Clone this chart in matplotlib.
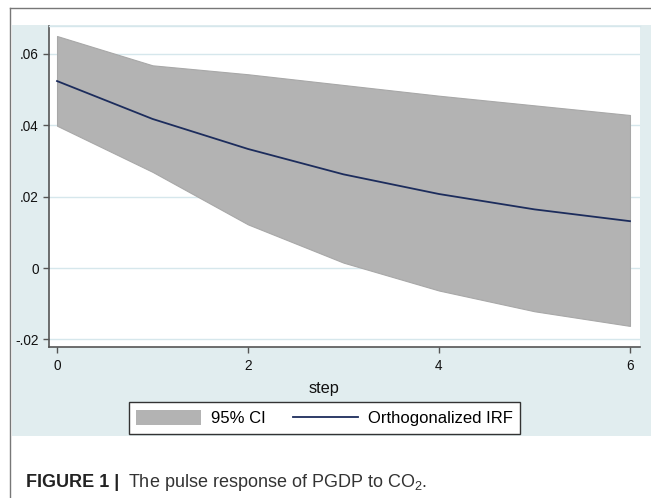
import matplotlib
matplotlib.use("Agg")
import matplotlib.pyplot as plt
from matplotlib.patches import Rectangle, Patch
from matplotlib.lines import Line2D

plt.rcParams['font.family'] = ['Liberation Sans', 'DejaVu Sans']
plt.rcParams['mathtext.fontset'] = 'custom'
plt.rcParams['mathtext.rm'] = 'Liberation Sans'

# data
steps = [0, 1, 2, 3, 4, 5, 6]
irf = [0.0523, 0.0417, 0.0333, 0.0262, 0.0207, 0.0164, 0.0131]
ci_upper = [0.0649, 0.0567, 0.0542, 0.0512, 0.0482, 0.0455, 0.0428]
ci_lower = [0.0398, 0.0269, 0.0122, 0.0015, -0.0063, -0.0121, -0.0162]
yticks = [-0.02, 0, 0.02, 0.04, 0.06]
ytick_labels = ['-.02', '0', '.02', '.04', '.06']
xticks = [0, 2, 4, 6]

W, H = 651, 498
bg_blue = '#e1edef'
grid_blue = '#d6e7ec'
fill_grey = '#b3b3b3'
navy = '#1c2c5c'

fig = plt.figure(figsize=(W / 100, H / 100), dpi=100)


def px(x, y):
    return x / W, 1 - y / H


# outer frame and Stata graph region
fig.add_artist(Rectangle(px(12, 436), (W - 12) / W, (436 - 25) / H,
                         transform=fig.transFigure, facecolor=bg_blue,
                         edgecolor='none', zorder=-5))
fig.add_artist(Line2D([9.5 / W, 9.5 / W], [0, 1 - 8.5 / H], color='#777777', lw=1))
fig.add_artist(Line2D([9.5 / W, 1], [1 - 8.5 / H, 1 - 8.5 / H], color='#777777', lw=1))

ax = fig.add_axes([49 / W, 1 - 347 / H, 591 / W, 321 / H])
ax.set_zorder(2)
ax.set_facecolor('white')
ax.fill_between(steps, ci_lower, ci_upper, color=fill_grey, lw=0.8,
                edgecolor='#a8a8a8', zorder=2)
ax.plot(steps, irf, color=navy, lw=1.3, zorder=3)

ax.set_xlim(-0.084, 6.105)
ax.set_ylim(-0.0221, 0.0677)
ax.set_xticks(xticks)
ax.set_xticklabels([str(t) for t in xticks])
ax.set_yticks(yticks)
ax.set_yticklabels(ytick_labels)
ax.yaxis.grid(True, color=grid_blue, lw=1)
ax.set_axisbelow(True)

for s in ['left', 'bottom']:
    ax.spines[s].set_color('#555555')
    ax.spines[s].set_linewidth(1.2)
ax.spines['right'].set_visible(False)
ax.spines['top'].set_color(grid_blue)
ax.spines['top'].set_linewidth(1)
ax.tick_params(axis='both', direction='out', length=4, width=1,
               color='#555555', labelsize=9.8, labelcolor='#111111')
ax.tick_params(axis='y', pad=3.5)
ax.tick_params(axis='x', pad=5)

fig.text(*px(324, 388), 'step', ha='center', va='center', fontsize=11.8,
         color='#111111')

handles = [Patch(facecolor=fill_grey, edgecolor='none'),
           Line2D([], [], color=navy, lw=1.3)]
leg = fig.legend(handles, ['95% CI', 'Orthogonalized IRF'], ncol=2,
                 loc='center', bbox_to_anchor=px(324.5, 418), fontsize=12,
                 frameon=True, fancybox=False, edgecolor='#333333',
                 handlelength=3.9, handleheight=1.0, handletextpad=0.6,
                 columnspacing=1.6, borderpad=0.45)
leg.get_frame().set_linewidth(1)
leg.get_frame().set_facecolor('white')
leg.get_frame().set_alpha(1)

# caption
t1 = fig.text(*px(26, 487), 'FIGURE 1 |', fontsize=13, fontweight='bold',
              color='#222222', va='baseline')
fig.canvas.draw()
bb = t1.get_window_extent()
fig.text((bb.x1 + 9) / W, 1 - 487 / H, 'The pulse response of PGDP to CO$_2$.',
         fontsize=13, color='#333333', va='baseline')

fig.savefig('out.png', dpi=100)
